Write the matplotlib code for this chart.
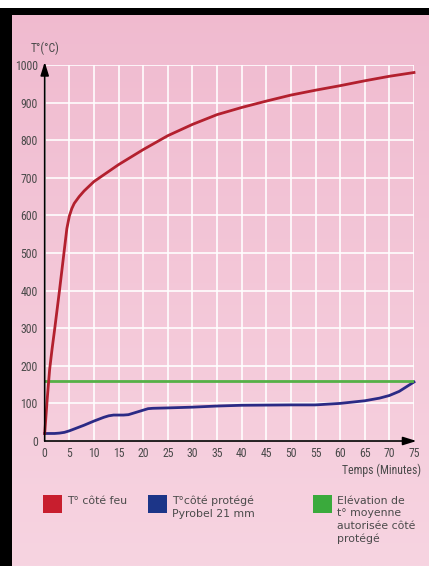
import matplotlib
matplotlib.use("Agg")
import matplotlib.pyplot as plt
import numpy as np
from matplotlib.patches import Rectangle
from matplotlib import font_manager

# ---- data ----
time_fire = [0, 0.5, 1, 1.5, 2, 3, 4, 4.5, 5, 5.5, 6, 7, 8, 10, 12, 15, 20, 25, 30, 35, 40, 45, 50, 55, 60, 65, 70, 75]
temp_fire = [20, 110, 190, 245, 295, 400, 510, 565, 598, 618, 632, 650, 665, 690, 708, 735, 775, 812, 842, 868, 887, 904, 920, 933, 945, 958, 970, 980]

time_prot = [0, 2, 3, 4, 5, 6, 8, 10, 12, 13, 14, 16, 17, 18, 20, 21, 22, 25, 30, 35, 40, 50, 55, 60, 65, 68, 70, 72, 75]
temp_prot = [20, 20, 21, 23, 27, 32, 42, 53, 63, 67, 69, 69, 70, 74, 82, 86, 87, 88, 90, 93, 95, 96, 96, 100, 107, 114, 121, 132, 157]

limit_temp = 160

x_ticks = list(range(0, 80, 5))
y_ticks = list(range(0, 1100, 100))

legend_labels = ["T° côté feu", "T°côté protégé\nPyrobel 21 mm",
                 "Elévation de\nt° moyenne\nautorisée côté\nprotégé"]
legend_colors = ["#c81e2e", "#1c3588", "#3aaa3c"]

available = {f.name for f in font_manager.fontManager.ttflist}
narrow = [f for f in ["Liberation Sans Narrow", "DejaVu Sans Condensed", "Roboto Condensed",
                      "Open Sans Condensed"] if f in available] + ["DejaVu Sans"]
tick_size = 8.5 if narrow[0] != "DejaVu Sans" else 7.3

W, H = 429, 566
fig = plt.figure(figsize=(W / 100, H / 100), dpi=100)

# background: pink gradient + black border
bg = fig.add_axes([0, 0, 1, 1])
grad = np.linspace(0, 1, 256).reshape(-1, 1)
c_top = np.array([240, 186, 207]) / 255
c_bot = np.array([247, 212, 225]) / 255
img = c_top + (c_bot - c_top) * grad[..., None]
img = np.repeat(img, 2, axis=1)
bg.imshow(img, aspect="auto", extent=[0, W, H, 0])
bg.set_xlim(0, W)
bg.set_ylim(H, 0)
bg.add_patch(Rectangle((0, 0), W, 8, color="white", lw=0))
bg.add_patch(Rectangle((0, 8), W, 7, color="black", lw=0))
bg.add_patch(Rectangle((0, 8), 12, H, color="black", lw=0))
bg.axis("off")

txt_col = "#4a4a4a"

# main axes
x0, x1 = 44.7, 414.0
y_top, y_bot = 65.0, 441.0
ax = fig.add_axes([x0 / W, 1 - y_bot / H, (x1 - x0) / W, (y_bot - y_top) / H])
ax.patch.set_alpha(0)
ax.set_xlim(0, 75)
ax.set_ylim(0, 1000)
for s in ax.spines.values():
    s.set_visible(False)
ax.set_xticks(x_ticks)
ax.set_yticks(y_ticks)
ax.tick_params(length=0, colors=txt_col, labelsize=tick_size)
ax.tick_params(axis="y", pad=5)
ax.tick_params(axis="x", pad=4)
for lab in ax.get_xticklabels() + ax.get_yticklabels():
    lab.set_family(narrow)
ax.grid(True, color="white", lw=1.3, alpha=0.9)
ax.set_axisbelow(True)

ax.plot(time_prot, temp_prot, color="#2b2a85", lw=2.0, zorder=3, clip_on=False)
ax.axhline(limit_temp, color="#55b046", lw=2.0, zorder=3)
ax.plot(time_fire, temp_fire, color="#b3202e", lw=2.0, zorder=4, clip_on=False)

# axis arrows
ax.annotate("", xy=(0, 1008), xytext=(0, 0),
            arrowprops=dict(arrowstyle="-|>,head_length=0.8,head_width=0.25", color="black", lw=1.2,
                            shrinkA=0, shrinkB=0), annotation_clip=False, zorder=5)
ax.annotate("", xy=(75.5, 0), xytext=(0, 0),
            arrowprops=dict(arrowstyle="-|>,head_length=0.8,head_width=0.25", color="black", lw=1.2,
                            shrinkA=0, shrinkB=0), annotation_clip=False, zorder=5)

# texts
fig.text(45 / W, 1 - 48 / H, "T°(°C)", ha="center", va="center", fontsize=tick_size,
         color=txt_col, family=narrow)
fig.text(421 / W, 1 - 470 / H, "Temps (Minutes)", ha="right", va="center", fontsize=tick_size,
         color=txt_col, family=narrow)

# legend
sq_x = [43, 148, 313]
for x, lab, col in zip(sq_x, legend_labels, legend_colors):
    bg.add_patch(Rectangle((x, 495), 19, 18, color=col, lw=0))
    bg.text(x + 24, 496, lab, ha="left", va="top", fontsize=7.8, color=txt_col,
            linespacing=1.3)

fig.savefig("out.png", dpi=100)
